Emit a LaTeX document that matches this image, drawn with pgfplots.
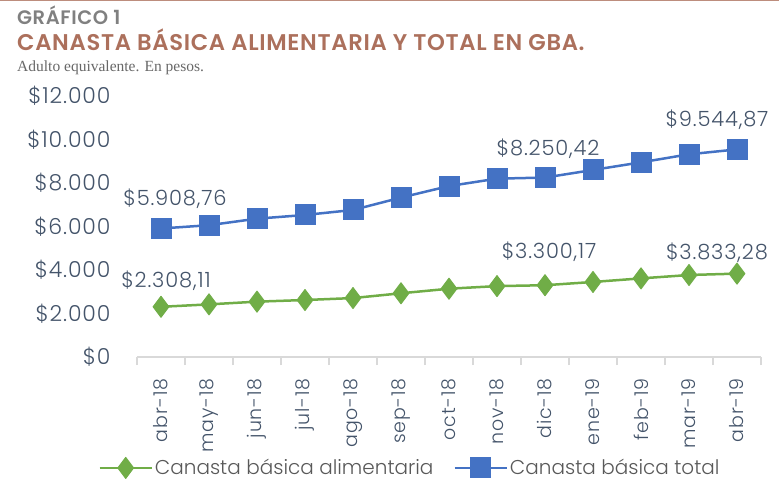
\documentclass[border=0pt]{standalone}
\usepackage{pgfplots}
\pgfplotsset{compat=1.18}
\usepackage{fontspec}
\setmainfont{Poppins}
\newfontfamily\lightf{Poppins Light}[LetterSpace=4]
\newfontfamily\lightn{Poppins Light}
\newfontfamily\titlef{Poppins SemiBold}[LetterSpace=3]
\newfontfamily\serifsub{Liberation Serif}
\definecolor{tickc}{RGB}{68,84,106}
\definecolor{blueS}{RGB}{68,114,196}
\definecolor{greenS}{RGB}{112,173,71}
\definecolor{titc}{RGB}{172,112,92}
\definecolor{grayh}{RGB}{128,128,128}
\definecolor{axc}{RGB}{217,217,217}
\definecolor{legc}{RGB}{89,89,89}
\begin{document}
\begin{tikzpicture}[x=1bp,y=1bp]
\path[use as bounding box] (0,0) rectangle (779,-484);
\draw[titc!80,line width=2bp] (0,-0.5) -- (779,-0.5);
\node[anchor=base west,inner sep=0,text=grayh,font=\titlef\fontsize{19.5bp}{20bp}\selectfont] at (17,-25) {GRÁFICO 1};
\node[anchor=base west,inner sep=0,text=titc,font=\titlef\fontsize{22.7bp}{24bp}\selectfont] at (17,-51) {CANASTA BÁSICA ALIMENTARIA Y TOTAL EN GBA.};
\node[anchor=base west,inner sep=0,text=grayh!80!black,font=\serifsub\fontsize{15.5bp}{17bp}\selectfont] at (17,-72) {Adulto equivalente. En pesos.};
\begin{axis}[
  at={(137bp,-357bp)}, anchor=south west,
  scale only axis, width=624bp, height=261bp,
  xmin=-0.5, xmax=12.5, ymin=0, ymax=12000,
  scaled y ticks=false,
  axis x line*=bottom, axis y line*=left,
  y axis line style={draw=none},
  x axis line style={draw=axc, line width=1.2bp},
  xtick={0,...,12},
  xticklabels={abr-18,may-18,jun-18,jul-18,ago-18,sep-18,oct-18,nov-18,dic-18,ene-19,feb-19,mar-19,abr-19},
  minor xtick={-0.5,0.5,...,12.5},
  major tick length=0pt,
  minor tick length=8bp,
  tick align=outside,
  minor tick style={draw=axc, line width=1.2bp},
  major tick style={draw=none},
  ytick={0,2000,...,12000},
  yticklabels={\$0,\$2.000,\$4.000,\$6.000,\$8.000,\$10.000,\$12.000},
  yticklabel style={font=\lightf\fontsize{22bp}{24bp}\selectfont, text=tickc, xshift=-23bp},
  xticklabel style={font=\lightf\fontsize{19bp}{22bp}\selectfont, text=tickc, rotate=90, anchor=east, xshift=-18bp},
  legend columns=2,
  legend style={at={(0.4375,-0.425)}, anchor=center, draw=none, fill=none,
    font=\lightn\fontsize{20bp}{22bp}\selectfont, text=legc,
    /tikz/every even column/.append style={column sep=18bp}},
  legend image code/.code={
    \draw[#1, mark=none] (0bp,0bp) -- (52bp,0bp);
    \draw[#1, only marks] plot coordinates {(26bp,0bp)};
  },
  clip=false,
]
\addplot[greenS, line width=2.5bp, mark=diamond*, mark size=10.5bp, mark options={fill=greenS, draw=greenS, line join=round, line width=1bp}]
  coordinates {(0,2308.11) (1,2420) (2,2545) (3,2620) (4,2710) (5,2930) (6,3140) (7,3260) (8,3300.17) (9,3450) (10,3615) (11,3770) (12,3833.28)};
\addlegendentry{Canasta básica alimentaria}
\addplot[blueS, line width=2.5bp, mark=square*, mark size=10bp, mark options={fill=blueS, draw=blueS, rounded corners=3bp, line width=1bp}]
  coordinates {(0,5908.76) (1,6060) (2,6360) (3,6530) (4,6760) (5,7330) (6,7860) (7,8200) (8,8250.42) (9,8600) (10,8950) (11,9320) (12,9544.87)};
\addlegendentry{Canasta básica total}
\begin{scope}[every node/.style={font=\lightf\fontsize{21bp}{24bp}\selectfont, text=tickc, inner sep=0}]
\node[anchor=center] at ([xshift=14bp,yshift=30bp]axis cs:0,5908.76) {\$5.908,76};
\node[anchor=center] at ([xshift=3bp,yshift=29bp]axis cs:8,8250.42) {\$8.250,42};
\node[anchor=center] at ([xshift=-20bp,yshift=30bp]axis cs:12,9544.87) {\$9.544,87};
\node[anchor=center] at ([xshift=5bp,yshift=26bp]axis cs:0,2308.11) {\$2.308,11};
\node[anchor=center] at ([xshift=4bp,yshift=33bp]axis cs:8,3300.17) {\$3.300,17};
\node[anchor=center] at ([xshift=-20bp,yshift=21bp]axis cs:12,3833.28) {\$3.833,28};
\end{scope}
\end{axis}
\end{tikzpicture}
\end{document}
